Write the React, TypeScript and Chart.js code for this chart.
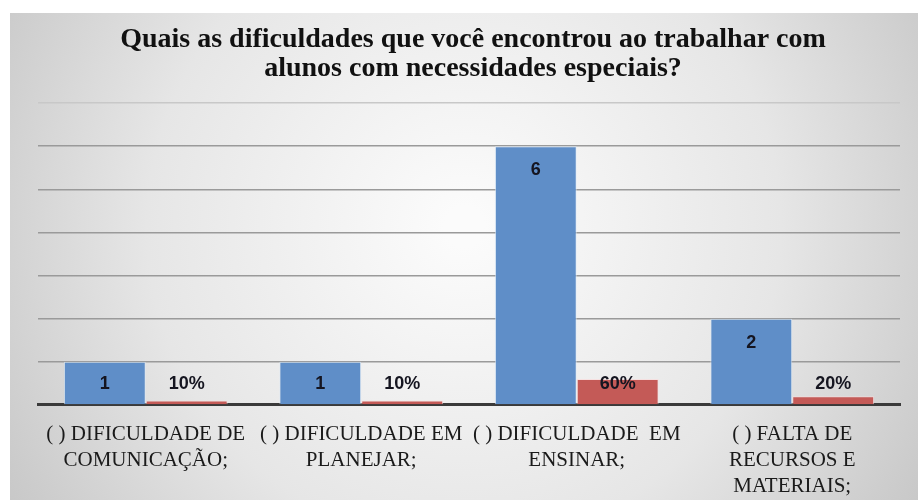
import React, { useEffect, useRef } from "react";
import { Chart, registerables } from "chart.js";

Chart.register(...registerables);
Chart.defaults.font.family = '"Liberation Serif", serif';

const TITLE_LINES = [
  "Quais as dificuldades que você encontrou ao trabalhar com",
  "alunos com necessidades especiais?",
];
const CATEGORIES: string[][] = [
  ["( ) DIFICULDADE DE", "COMUNICAÇÃO;"],
  ["( ) DIFICULDADE EM", "PLANEJAR;"],
  ["( ) DIFICULDADE  EM", "ENSINAR;"],
  ["( ) FALTA DE", "RECURSOS E", "MATERIAIS;"],
];
const COUNTS = [1, 1, 6, 2];
const PERCENTS = [0.1, 0.1, 0.6, 0.2];
const PERCENT_LABELS = ["10%", "10%", "60%", "20%"];
const COUNT_LABELS = ["1", "1", "6", "2"];

const bgPlugin = {
  id: "panelBg",
  beforeDraw(chart: any) {
    const { ctx, width, height } = chart;
    ctx.save();
    ctx.fillStyle = "#ffffff";
    ctx.fillRect(0, 0, width, height);
    const x0 = 10, y0 = 13, x1 = width, y1 = height;
    const cx = (x0 + x1) / 2, cy = (y0 + y1) / 2 - 30;
    const g = ctx.createRadialGradient(cx, cy, 20, cx, cy, 560);
    g.addColorStop(0, "#fbfbfb");
    g.addColorStop(0.55, "#e6e6e6");
    g.addColorStop(1, "#c4c4c4");
    ctx.fillStyle = g;
    ctx.fillRect(x0, y0, x1 - x0, y1 - y0);
    ctx.restore();
  },
};

const titlePlugin = {
  id: "titleText",
  afterDraw(chart: any) {
    const { ctx } = chart;
    ctx.save();
    ctx.fillStyle = "#111111";
    ctx.font = 'bold 28px "Liberation Serif"';
    ctx.textAlign = "center";
    ctx.textBaseline = "alphabetic";
    const cx = 473;
    ctx.fillText(TITLE_LINES[0], cx, 47);
    ctx.fillText(TITLE_LINES[1], cx, 76);
    ctx.restore();
  },
};

const labelPlugin = {
  id: "barLabels",
  afterDatasetsDraw(chart: any) {
    const { ctx } = chart;
    const base = chart.scales.y.getPixelForValue(0);
    ctx.save();
    ctx.fillStyle = "#151520";
    ctx.font = 'bold 18px "Liberation Sans"';
    ctx.textAlign = "center";
    ctx.textBaseline = "middle";
    chart.data.datasets.forEach((ds: any, di: number) => {
      const meta = chart.getDatasetMeta(di);
      const labels = di === 0 ? COUNT_LABELS : PERCENT_LABELS;
      meta.data.forEach((bar: any, i: number) => {
        const y = Math.min(bar.y + 24, base - 21);
        ctx.fillText(labels[i], bar.x, y);
      });
    });
    ctx.restore();
  },
};

export default function App() {
  const ref = useRef<HTMLCanvasElement | null>(null);
  useEffect(() => {
    if (!ref.current) return;
    const chart = new Chart(ref.current, {
      type: "bar",
      data: {
        labels: CATEGORIES,
        datasets: [
          {
            label: "Quantidade",
            data: COUNTS,
            backgroundColor: "#5F8EC8",
            borderColor: "rgba(220,235,250,0.7)",
            borderWidth: 1,
          },
          {
            label: "Percentual",
            data: PERCENTS,
            backgroundColor: "#C45A57",
            borderColor: "rgba(250,220,220,0.7)",
            borderWidth: 1,
          },
        ],
      },
      options: {
        animation: false,
        responsive: false,
        maintainAspectRatio: false,
        layout: { padding: { top: 103, left: 38, right: 18, bottom: -17 } },
        plugins: {
          legend: { display: false },
          title: { display: false },
          tooltip: { enabled: false },
        },
        datasets: { bar: { categoryPercentage: 0.76, barPercentage: 1 } },
        scales: {
          x: {
            grid: { display: false, drawTicks: false },
            border: { display: true, color: "#3a3a3a", width: 3 },
            ticks: {
              autoSkip: false,
              maxRotation: 0,
              minRotation: 0,
              padding: 17,
              color: "#1a1a1a",
              font: { family: '"Liberation Serif", serif', size: 21, lineHeight: 1.24 },
            },
          },
          y: {
            min: 0,
            max: 7,
            ticks: { display: false, stepSize: 1 },
            grid: {
              drawTicks: false,
              color: (c: any) => (c.tick && c.tick.value === 7 ? "#c8c8c8" : "#9a9a9a"),
              lineWidth: 1.5,
            },
            border: { display: false },
          },
        },
      },
      plugins: [bgPlugin, titlePlugin, labelPlugin],
    });
    return () => chart.destroy();
  }, []);
  return (
    <div style={{ position: "fixed", left: 0, top: 0, width: 918, height: 500 }}>
      <canvas ref={ref} width={918} height={500} style={{ display: "block", width: 918, height: 500 }} />
    </div>
  );
}
